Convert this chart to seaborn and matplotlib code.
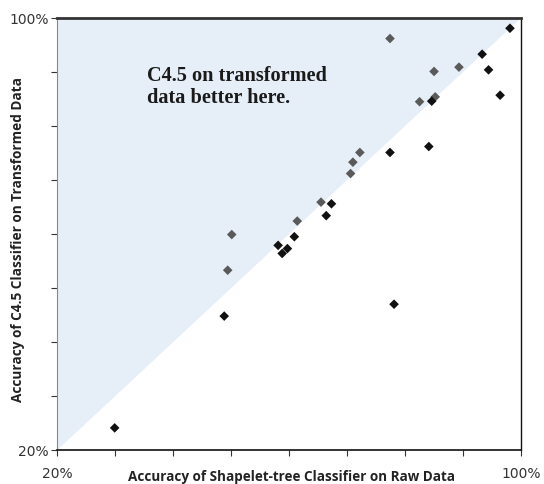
import seaborn as sns
import matplotlib.pyplot as plt
import pandas as pd

# Accuracy (%) of shapelet-tree on raw data vs C4.5 on transformed data
better_raw = [77.4, 85.0, 89.3, 82.5, 85.2, 72.2, 71.0, 70.6, 65.5, 61.4, 50.1, 49.4]
better_trans = [96.2, 90.1, 90.9, 84.5, 85.4, 75.1, 73.3, 71.2, 65.9, 62.4, 59.9, 53.3]

worse_raw = [98.1, 93.3, 94.4, 96.4, 84.6, 84.1, 77.4, 67.3, 66.4, 60.9,
             58.1, 59.7, 58.8, 48.8, 78.1, 29.9]
worse_trans = [98.1, 93.3, 90.4, 85.7, 84.6, 76.2, 75.1, 65.6, 63.4, 59.5,
               57.9, 57.3, 56.4, 44.8, 47.0, 24.1]

df = pd.DataFrame({
    'raw': better_raw + worse_raw,
    'trans': better_trans + worse_trans,
    'group': ['better'] * len(better_raw) + ['worse'] * len(worse_raw),
})

sns.set_style('white')
fig = plt.figure(figsize=(5.44, 4.84), dpi=100)
ax = fig.add_axes([0.1053, 0.0702, 0.8524, 0.8926])

# shaded region above the diagonal
ax.fill([20, 100, 20], [20, 100, 100], color='#e6eef8', lw=0, zorder=0)

sns.scatterplot(data=df, x='raw', y='trans', hue='group',
                palette={'better': '#5a5a5a', 'worse': '#111111'},
                marker='D', s=24, edgecolor='none', legend=False, ax=ax, zorder=3)

ax.text(35.4, 91.1, 'C4.5 on transformed\ndata better here.', family='Liberation Serif',
        fontweight='bold', fontsize=14.6, color='#1a1a1a', va='top', ha='left',
        linespacing=1.1)

ax.set_xlim(20, 100)
ax.set_ylim(20, 100)
ticks = list(range(20, 101, 10))
ax.set_xticks(ticks)
ax.set_yticks(ticks)
ax.set_xticklabels(['20%'] + [''] * 7 + ['100%'])
ax.set_yticklabels(['20%'] + [''] * 7 + ['100%'])
ax.tick_params(direction='out', length=4, width=0.8, color='#333333',
               labelsize=10, labelcolor='#333333', pad=8, bottom=True, left=True)
ax.tick_params(axis='y', pad=2)

ax.spines['top'].set_color('#333333')
ax.spines['top'].set_linewidth(2)
ax.spines['right'].set_color('#111111')
ax.spines['right'].set_linewidth(1)
ax.spines['left'].set_color('#888888')
ax.spines['left'].set_linewidth(0.8)
ax.spines['bottom'].set_color('#111111')
ax.spines['bottom'].set_linewidth(1.2)

ax.set_xlabel('Accuracy of Shapelet-tree Classifier on Raw Data', family='Open Sans',
              fontweight='bold', fontsize=9.75, color='#222222', va='center')
ax.set_ylabel('Accuracy of C4.5 Classifier on Transformed Data', family='Open Sans',
              fontweight='bold', fontsize=9.8, color='#222222', va='center')
ax.xaxis.set_label_coords(0.506, -0.063)
ax.yaxis.set_label_coords(-0.085, 0.488)

fig.savefig('out.png', dpi=100)
